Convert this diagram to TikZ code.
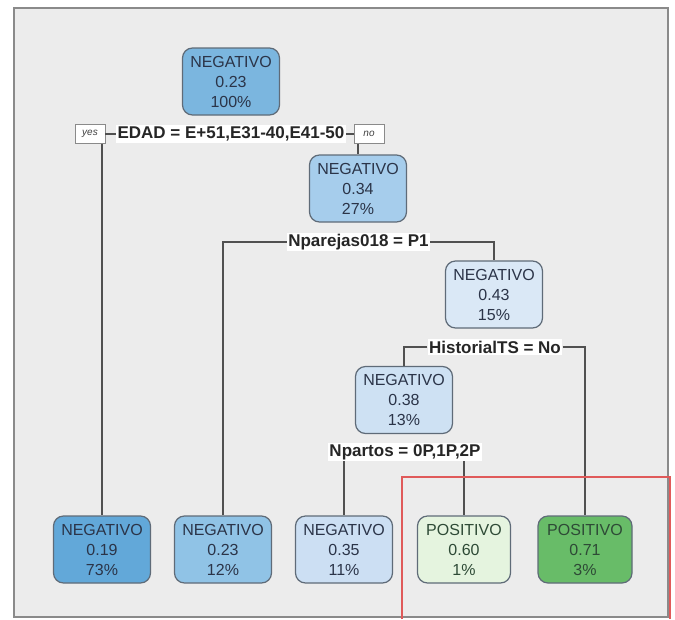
\documentclass[tikz,border=0pt]{standalone}
\usepackage{fontspec}
\setmainfont{Liberation Sans}
\definecolor{bgc}{HTML}{ECECEC}
\definecolor{framec}{HTML}{8A8A8A}
\definecolor{edgec}{HTML}{5F6B78}
\definecolor{connc}{HTML}{505050}
\definecolor{txtc}{HTML}{2B3448}
\definecolor{txtg}{HTML}{2E4A36}
\definecolor{cRoot}{HTML}{7BB6DF}
\definecolor{cNtwo}{HTML}{A6CDEC}
\definecolor{cNthree}{HTML}{DAE8F6}
\definecolor{cNfour}{HTML}{CEE1F3}
\definecolor{cLone}{HTML}{62A8D9}
\definecolor{cLtwo}{HTML}{90C3E6}
\definecolor{cLthree}{HTML}{CCDFF3}
\definecolor{cLfour}{HTML}{E5F4DF}
\definecolor{cLfive}{HTML}{68BC68}
\definecolor{redc}{HTML}{E05A5A}
\begin{document}
\begin{tikzpicture}[x=1pt,y=-1pt,
  treenode/.style={draw=edgec, line width=1.2pt, rounded corners=10pt,
    minimum width=97pt, minimum height=67pt, align=center, text=txtc,
    font=\fontsize{16}{20}\selectfont, inner sep=2pt},
  splitlab/.style={fill=white, text=black!85, inner sep=1.5pt,
    font=\bfseries\fontsize{17}{19}\selectfont},
  ynbox/.style={draw=framec, fill=white, line width=0.9pt, text=black!75,
    font=\itshape\fontsize{10}{11}\selectfont, minimum width=30pt, minimum height=19pt, inner sep=1pt},
  conn/.style={draw=connc, line width=1.4pt}]
\fill[white] (0,0) rectangle (675,619);
\useasboundingbox (0,0) rectangle (675,619);
\draw[draw=framec, line width=1.2pt, fill=bgc] (14,8) rectangle (668,617);

% nodes
\node[treenode, fill=cRoot] (root) at (231,81.5) {NEGATIVO\\0.23\\100\%};
\node[treenode, fill=cNtwo] (n2) at (358,188.5) {NEGATIVO\\0.34\\27\%};
\node[treenode, fill=cNthree] (n3) at (494,294.5) {NEGATIVO\\0.43\\15\%};
\node[treenode, fill=cNfour] (n4) at (404,400) {NEGATIVO\\0.38\\13\%};
\node[treenode, fill=cLone] (l1) at (102,549.5) {NEGATIVO\\0.19\\73\%};
\node[treenode, fill=cLtwo] (l2) at (223,549.5) {NEGATIVO\\0.23\\12\%};
\node[treenode, fill=cLthree] (l3) at (344,549.5) {NEGATIVO\\0.35\\11\%};
\node[treenode, fill=cLfour, text=txtg, minimum width=93pt] (l4) at (464,549.5) {POSITIVO\\0.60\\1\%};
\node[treenode, fill=cLfive, text=txtg, minimum width=94pt] (l5) at (585,549.5) {POSITIVO\\0.71\\3\%};

% split labels
\node[splitlab] (edad) at (231,134) {EDAD = E+51,E31-40,E41-50};
\node[ynbox] (yes) at (90,134) {yes};
\node[ynbox] (no) at (369,134) {no};
\node[splitlab] (npar) at (358.5,242) {Nparejas018 = P1};
\node[splitlab] (hist) at (495,347) {HistorialTS = No};
\node[splitlab] (npart) at (405,452) {Npartos = 0P,1P,2P};

% connectors
\draw[conn] (yes.east) -- (yes.east -| edad.west);
\draw[conn] (no.west -| edad.east) -- (no.west);
\draw[conn] (yes.south -| l1.north) -- (l1.north);
\draw[conn] (no.south -| n2.north) -- (n2.north);
\draw[conn] (npar.west) -| (l2.north);
\draw[conn] (npar.east) -| (n3.north);
\draw[conn] (hist.west) -| (n4.north);
\draw[conn] (hist.east) -| (l5.north);
\draw[conn] (npart.south -| l3.north) -- (l3.north);
\draw[conn] (npart.south -| l4.north) -- (l4.north);

% highlight box
\draw[redc, line width=1.2pt] (402,619) -- (402,477) -- (670,477) -- (670,619);
\end{tikzpicture}
\end{document}
